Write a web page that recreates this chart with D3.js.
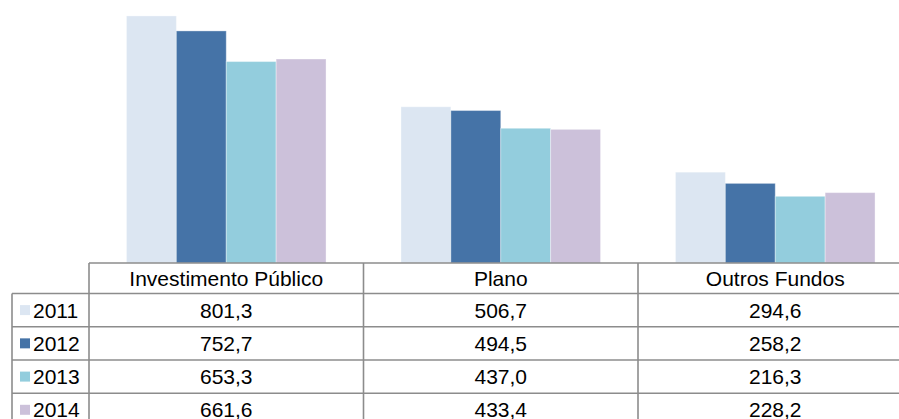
<!DOCTYPE html>
<html>
<head>
<meta charset="utf-8">
<script src="https://cdn.jsdelivr.net/npm/d3@7"></script>
<style>
  html, body { margin: 0; padding: 0; background: #fff; }
  svg { display: block; }
  text { font-family: "Liberation Sans", Arial, sans-serif; fill: #000; }
</style>
</head>
<body>
<script>
// Categories, years and values (milhões)
const categories = ["Investimento Público", "Plano", "Outros Fundos"];
const years = ["2011", "2012", "2013", "2014"];
const values2011 = [801.3, 506.7, 294.6];
const values2012 = [752.7, 494.5, 258.2];
const values2013 = [653.3, 437.0, 216.3];
const values2014 = [661.6, 433.4, 228.2];
const seriesValues = [values2011, values2012, values2013, values2014];
const colors = ["#dce6f2", "#4573a7", "#93cddd", "#ccc1da"];
const valueLabels = [
  ["801,3", "506,7", "294,6"],
  ["752,7", "494,5", "258,2"],
  ["653,3", "437,0", "216,3"],
  ["661,6", "433,4", "228,2"]
];

const W = 899, H = 419;
const plotLeft = 89, plotRight = 912.5, baseline = 263;
const legendLeft = 12;
const rowLines = [263, 293.5, 326.7, 360, 393.2, 426.4];
const fontSize = 21;
const gridColor = "#8c8c8c";

const svg = d3.select("body").append("svg").attr("width", W).attr("height", H);

const x = d3.scaleBand().domain(categories).range([plotLeft, plotRight]).paddingInner(0).paddingOuter(0);
const bw = x.bandwidth();
const xs = d3.scaleBand().domain(years).range([bw * 0.1365, bw * 0.8635]).padding(0);
const y = d3.scaleLinear().domain([0, 853]).range([baseline, 0]);

// Bars
const gBars = svg.append("g");
years.forEach((yr, si) => {
  gBars.selectAll(null)
    .data(categories.map((c, ci) => ({ c, v: seriesValues[si][ci] })))
    .enter().append("rect")
    .attr("x", d => x(d.c) + xs(yr))
    .attr("y", d => y(d.v))
    .attr("width", xs.bandwidth())
    .attr("height", d => baseline - y(d.v))
    .attr("fill", colors[si])
    .attr("stroke", "rgba(255,255,255,0.35)")
    .attr("stroke-width", 1);
});

// Data table
const gTable = svg.append("g");
// horizontal lines
rowLines.forEach((ly, i) => {
  gTable.append("line")
    .attr("x1", i === 0 ? plotLeft : legendLeft)
    .attr("x2", plotRight)
    .attr("y1", ly).attr("y2", ly)
    .attr("stroke", gridColor).attr("stroke-width", 1.6);
});
// vertical lines between categories
const vx = [plotLeft].concat(categories.map(c => x(c) + bw));
vx.forEach(lx => {
  gTable.append("line")
    .attr("x1", lx).attr("x2", lx)
    .attr("y1", rowLines[0]).attr("y2", H + 10)
    .attr("stroke", gridColor).attr("stroke-width", 1.6);
});
gTable.append("line")
  .attr("x1", legendLeft).attr("x2", legendLeft)
  .attr("y1", rowLines[1]).attr("y2", H + 10)
  .attr("stroke", gridColor).attr("stroke-width", 1.6);

// header labels
gTable.selectAll(".hdr").data(categories).enter().append("text")
  .attr("class", "hdr")
  .attr("x", d => x(d) + bw / 2)
  .attr("y", 286)
  .attr("text-anchor", "middle")
  .style("font-size", fontSize + "px")
  .text(d => d);

// rows
years.forEach((yr, si) => {
  const top = rowLines[si + 1], bot = rowLines[si + 2];
  const mid = (top + bot) / 2;
  gTable.append("rect")
    .attr("x", 20).attr("y", mid - 5)
    .attr("width", 10).attr("height", 10)
    .attr("fill", colors[si]);
  gTable.append("text")
    .attr("x", 33).attr("y", mid + 7.5)
    .style("font-size", fontSize + "px")
    .text(yr);
  categories.forEach((c, ci) => {
    gTable.append("text")
      .attr("x", x(c) + bw / 2)
      .attr("y", mid + 7.5)
      .attr("text-anchor", "middle")
      .style("font-size", fontSize + "px")
      .text(valueLabels[si][ci]);
  });
});
</script>
</body>
</html>
